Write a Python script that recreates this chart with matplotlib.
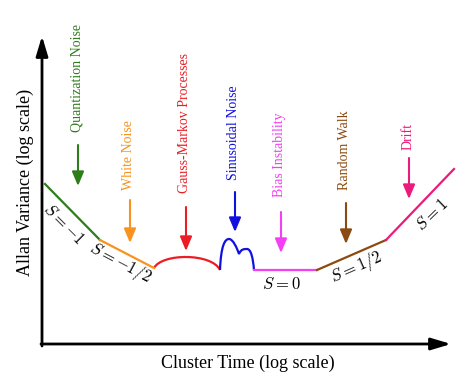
import matplotlib
matplotlib.use("Agg")
import matplotlib.pyplot as plt
from matplotlib.path import Path
from matplotlib.patches import PathPatch

plt.rcParams['font.family'] = ['Liberation Serif', 'DejaVu Serif']
plt.rcParams['mathtext.fontset'] = 'cm'

# schematic log-log coordinates (arbitrary units)
# straight segments: (tau, avar) knots
green_tau = [45, 100]
green_av = [206, 150]
orange_tau = [100, 154]
orange_av = [150, 122]
magenta_tau = [254, 317]
magenta_av = [120, 120]
brown_tau = [317, 386]
brown_av = [120, 150]
pink_tau = [386, 454]
pink_av = [150, 221]

# curved pieces: bezier control points
red_ctrl = [(154, 122), (162, 137), (212, 137), (220, 120)]
blue_ctrl = [(220, 120), (221, 145), (225, 151), (229, 151),
             (233, 151), (237, 142), (239, 136),
             (241, 141), (244, 141), (247, 141),
             (251, 141), (253, 132), (254, 120)]

colors = {
    'green': '#2f7d1a', 'orange': '#f7931e', 'red': '#ec1c24',
    'blue': '#1010e0', 'magenta': '#f43ff4', 'brown': '#8b4a0f',
    'pink': '#ec1a7b',
}

# noise labels: name, colour, x, arrow top, arrow tip
labels = ['Quantization Noise', 'White Noise', 'Gauss-Markov Processes',
          'Sinusoidal Noise', 'Bias Instability', 'Random Walk', 'Drift']
label_colors = ['green', 'orange', 'red', 'blue', 'magenta', 'brown', 'pink']
label_x = [78, 130, 186, 235, 281, 346, 409]
label_bottom = [258, 200, 197, 210, 193, 200, 240]
arrow_top = [245, 190, 183, 198, 178, 187, 232]
arrow_tip = [204, 147, 139, 158, 137, 146, 191]

slope_text = [r'$S=-1$', r'$S=-1/2$', r'$S=0$', r'$S=1/2$', r'$S=1$']
slope_pos = [(63, 165), (120, 127), (281, 105), (357, 122), (432, 175)]
slope_rot = [-45, -28, 0, 24, 44]

fig = plt.figure(figsize=(4.74, 3.9), dpi=100)
ax = fig.add_axes([0, 0, 1, 1])
ax.set_xlim(0, 474)
ax.set_ylim(0, 390)
ax.axis('off')

# axes with arrows
ax.annotate('', xy=(42, 354), xytext=(42, 44),
            arrowprops=dict(arrowstyle='-|>,head_length=1.2,head_width=0.36',
                            lw=2, color='k', mutation_scale=10,
                            shrinkA=0, shrinkB=0))
ax.annotate('', xy=(451, 46), xytext=(41, 46),
            arrowprops=dict(arrowstyle='-|>,head_length=1.2,head_width=0.36',
                            lw=2, color='k', mutation_scale=10,
                            shrinkA=0, shrinkB=0))
ax.text(25, 208, 'Allan Variance (log scale)', rotation=90,
        ha='center', va='center', fontsize=13)
ax.text(248, 27, 'Cluster Time (log scale)', ha='center', va='center',
        fontsize=13)

lw = 1.6
ax.plot(green_tau, green_av, color=colors['green'], lw=lw)
ax.plot(orange_tau, orange_av, color=colors['orange'], lw=lw)
ax.plot(magenta_tau, magenta_av, color=colors['magenta'], lw=lw)
ax.plot(brown_tau, brown_av, color=colors['brown'], lw=lw)
ax.plot(pink_tau, pink_av, color=colors['pink'], lw=lw)

red_path = Path(red_ctrl, [Path.MOVETO] + [Path.CURVE4] * 3)
ax.add_patch(PathPatch(red_path, fill=False, edgecolor=colors['red'], lw=lw))
blue_path = Path(blue_ctrl, [Path.MOVETO] + [Path.CURVE4] * 12)
ax.add_patch(PathPatch(blue_path, fill=False, edgecolor=colors['blue'], lw=lw))

for name, c, x, yb, ya, yt in zip(labels, label_colors, label_x,
                                  label_bottom, arrow_top, arrow_tip):
    ax.text(x - 1, yb, name, rotation=90, ha='center', va='bottom',
            color=colors[c], fontsize=10)
    ax.annotate('', xy=(x, yt), xytext=(x, ya),
                arrowprops=dict(arrowstyle='-|>,head_length=0.86,head_width=0.36',
                                lw=1.5, color=colors[c], mutation_scale=10,
                                shrinkA=0, shrinkB=0))

for s, (x, y), r in zip(slope_text, slope_pos, slope_rot):
    ax.text(x, y, s, rotation=r, ha='center', va='center', fontsize=12,
            rotation_mode='anchor')

fig.savefig('out.png', dpi=100)
